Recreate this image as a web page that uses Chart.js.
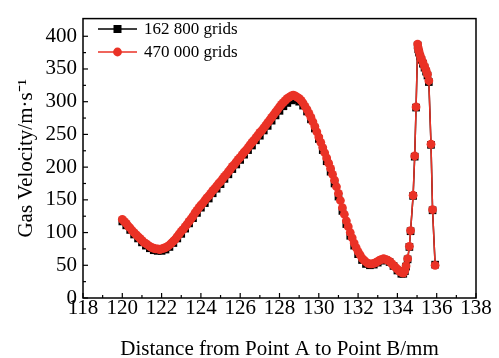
<!DOCTYPE html>
<html>
<head>
<meta charset="utf-8">
<script src="https://cdn.jsdelivr.net/npm/chart.js@4.4.0/dist/chart.umd.min.js"></script>
<style>
    html, body { margin: 0; padding: 0; background: #fff; }
    #wrap { width: 499px; height: 358px; }
</style>
</head>
<body>
<div id="wrap"><canvas id="velocityChart" width="499" height="358"></canvas></div>
<script>
// ============================================
// DATA
// ============================================

const seriesNames = ['162 800 grids', '470 000 grids'];

// 470 000 grids (red circles)
const fineX = [
    120.0, 120.1, 120.2, 120.3, 120.4, 120.5, 120.6, 120.7, 120.8, 120.9,
    121.0, 121.1, 121.2, 121.3, 121.4, 121.5, 121.6, 121.7, 121.8, 121.9,
    122.0, 122.1, 122.2, 122.3, 122.4, 122.5, 122.6, 122.7, 122.8, 122.9,
    123.0, 123.1, 123.2, 123.3, 123.4, 123.5, 123.6, 123.7, 123.8, 123.9,
    124.0, 124.1, 124.2, 124.3, 124.4, 124.5, 124.6, 124.7, 124.8, 124.9,
    125.0, 125.1, 125.2, 125.3, 125.4, 125.5, 125.6, 125.7, 125.8, 125.9,
    126.0, 126.1, 126.2, 126.3, 126.4, 126.5, 126.6, 126.7, 126.8, 126.9,
    127.0, 127.1, 127.2, 127.3, 127.4, 127.5, 127.6, 127.7, 127.8, 127.9,
    128.0, 128.1, 128.2, 128.3, 128.4, 128.5, 128.6, 128.7, 128.8, 128.9,
    129.0, 129.1, 129.2, 129.3, 129.4, 129.5, 129.6, 129.7, 129.8, 129.9,
    130.0, 130.1, 130.2, 130.3, 130.4, 130.5, 130.6, 130.7, 130.8, 130.9,
    131.0, 131.1, 131.2, 131.3, 131.4, 131.5, 131.6, 131.7, 131.8, 131.9,
    132.0, 132.1, 132.2, 132.3, 132.4, 132.5, 132.6, 132.7, 132.8, 132.9,
    133.0, 133.1, 133.2, 133.3, 133.4, 133.5, 133.6, 133.7, 133.8, 133.9,
    134.0, 134.1, 134.2, 134.3, 134.38, 134.44, 134.52, 134.61, 134.67, 134.80,
    134.88, 134.95, 135.03, 135.06, 135.10, 135.16, 135.22, 135.30, 135.38, 135.46,
    135.53, 135.60, 135.71, 135.79, 135.92
];
const fineY = [
    120, 117, 114, 110, 107, 103, 100, 97, 94, 91,
    88, 85, 83, 81, 79, 77, 76, 75, 75, 74,
    75, 76, 77, 79, 81, 84, 87, 90, 94, 98,
    102, 105, 109, 113, 117, 121, 125, 130, 134, 138,
    142, 145, 149, 153, 156, 160, 164, 167, 171, 175,
    178, 182, 186, 189, 193, 197, 201, 204, 208, 212,
    215, 219, 223, 226, 230, 234, 238, 241, 245, 249,
    253, 256, 260, 264, 268, 272, 276, 280, 284, 288,
    292, 296, 299, 302, 305, 307, 309, 310, 309, 307,
    305, 302, 298, 293, 288, 282, 276, 269, 262, 254,
    246, 238, 230, 222, 214, 206, 198, 189, 180, 170,
    160, 149, 138, 128, 118, 109, 100, 92, 84, 77,
    71, 66, 61, 58, 55, 53, 52, 52, 53, 54,
    56, 58, 59, 60, 59, 58, 56, 53, 50, 47,
    44, 41, 39, 38, 42, 49, 60, 79, 103, 157,
    217, 292, 388, 382, 377, 371, 366, 360, 354, 348,
    342, 332, 235, 135, 50
];

// 162 800 grids (black squares)
const coarseX = [
    120.0, 120.2, 120.4, 120.6, 120.8, 121.0, 121.2, 121.4, 121.6, 121.8,
    122.0, 122.2, 122.4, 122.6, 122.8, 123.0, 123.2, 123.4, 123.6, 123.8,
    124.0, 124.2, 124.4, 124.6, 124.8, 125.0, 125.2, 125.4, 125.6, 125.8,
    126.0, 126.2, 126.4, 126.6, 126.8, 127.0, 127.2, 127.4, 127.6, 127.8,
    128.0, 128.2, 128.4, 128.6, 128.8, 129.0, 129.2, 129.4, 129.6, 129.8,
    130.0, 130.2, 130.4, 130.6, 130.8, 131.0, 131.2, 131.4, 131.6, 131.8,
    132.0, 132.2, 132.4, 132.6, 132.8, 133.0, 133.2, 133.4, 133.6, 133.8,
    134.0, 134.2, 134.3, 134.38, 134.44, 134.52, 134.61, 134.67, 134.80, 134.88,
    134.95, 135.03, 135.06, 135.10, 135.16, 135.22, 135.30, 135.38, 135.46, 135.53,
    135.60, 135.71, 135.79, 135.92
];
const coarseY = [
    117, 111, 104, 97, 91, 85, 80, 76, 73, 72,
    72, 74, 78, 84, 91, 98, 106, 114, 122, 130,
    138, 145, 152, 160, 167, 174, 182, 189, 197, 204,
    211, 219, 226, 233, 241, 248, 256, 263, 271, 279,
    286, 293, 298, 302, 303, 300, 294, 285, 273, 259,
    243, 226, 209, 193, 175, 155, 133, 113, 95, 80,
    67, 58, 52, 50, 51, 54, 57, 58, 55, 49,
    42, 37, 37, 41, 48, 59, 78, 102, 156, 216,
    291, 386, 380, 375, 369, 364, 358, 352, 346, 340,
    330, 234, 134, 51
];

const xMin = 118, xMax = 138, xStep = 1, xLabelEvery = 2;
const yMin = 0, yMax = 427, yStep = 25, yLabelEvery = 50;

const RED = '#ea3226';
const BLACK = '#000000';
const FONT = 'Liberation Serif, Times New Roman, serif';

// ============================================
// PLUGINS
// ============================================

// frame + inward tick marks on bottom and left axes
const frameTicks = {
    id: 'frameTicks',
    afterDraw(chart) {
        const { ctx, chartArea: a, scales } = chart;
        ctx.save();
        ctx.strokeStyle = '#000';
        ctx.lineWidth = 1.5;
        ctx.strokeRect(a.left, a.top, a.right - a.left, a.bottom - a.top);

        ctx.lineWidth = 1.2;
        scales.x.ticks.forEach(t => {
            const px = scales.x.getPixelForValue(t.value);
            const len = t.value % xLabelEvery === 0 ? 5 : 3;
            ctx.beginPath();
            ctx.moveTo(px, a.bottom);
            ctx.lineTo(px, a.bottom - len);
            ctx.stroke();
        });
        scales.y.ticks.forEach(t => {
            const py = scales.y.getPixelForValue(t.value);
            const len = t.value % yLabelEvery === 0 ? 5 : 3;
            ctx.beginPath();
            ctx.moveTo(a.left, py);
            ctx.lineTo(a.left + len, py);
            ctx.stroke();
        });
        ctx.restore();
    }
};

// legend drawn inside the plot, top-left
const innerLegend = {
    id: 'innerLegend',
    afterDraw(chart) {
        const { ctx } = chart;
        const rows = [
            { ds: chart.data.datasets[0], y: 29 },
            { ds: chart.data.datasets[1], y: 52 }
        ];
        ctx.save();
        rows.forEach(r => {
            ctx.strokeStyle = r.ds.borderColor;
            ctx.lineWidth = 1.6;
            ctx.beginPath();
            ctx.moveTo(98, r.y);
            ctx.lineTo(137, r.y);
            ctx.stroke();
            ctx.fillStyle = r.ds.pointBackgroundColor;
            if (r.ds.pointStyle === 'rect') {
                ctx.fillRect(117.5 - 4, r.y - 4, 8, 8);
            } else {
                ctx.beginPath();
                ctx.arc(117.5, r.y, 4.4, 0, Math.PI * 2);
                ctx.fill();
            }
            ctx.fillStyle = '#000';
            ctx.font = '17px ' + FONT;
            ctx.textBaseline = 'middle';
            ctx.fillText(r.ds.label, 144, r.y + 1);
        });
        ctx.restore();
    }
};

// ============================================
// CHART
// ============================================

const toPoints = (xs, ys) => xs.map((x, i) => ({ x: x, y: ys[i] }));

const ctx = document.getElementById('velocityChart');
new Chart(ctx, {
    type: 'line',
    data: {
        datasets: [
            {
                label: seriesNames[0],
                data: toPoints(coarseX, coarseY),
                borderColor: BLACK,
                backgroundColor: BLACK,
                pointBackgroundColor: BLACK,
                pointBorderColor: BLACK,
                pointStyle: 'rect',
                pointRadius: 5.4,
                pointBorderWidth: 0,
                borderWidth: 1.5,
                order: 1
            },
            {
                label: seriesNames[1],
                data: toPoints(fineX, fineY),
                borderColor: RED,
                backgroundColor: RED,
                pointBackgroundColor: RED,
                pointBorderColor: RED,
                pointStyle: 'circle',
                pointRadius: 4.4,
                pointBorderWidth: 0,
                borderWidth: 1.5,
                order: 0
            }
        ]
    },
    options: {
        responsive: false,
        animation: false,
        clip: false,
        layout: { padding: { left: 0, top: 7, right: 23, bottom: 0 } },
        plugins: {
            legend: { display: false },
            tooltip: { enabled: false }
        },
        scales: {
            x: {
                type: 'linear',
                min: xMin,
                max: xMax,
                grid: { display: false, drawTicks: false },
                border: { display: false },
                ticks: {
                    stepSize: xStep,
                    autoSkip: false,
                    maxRotation: 0,
                    padding: -2,
                    color: '#000',
                    font: { family: FONT, size: 21 },
                    callback: v => (v % xLabelEvery === 0 ? String(v) : '')
                },
                title: {
                    display: true,
                    text: 'Distance from Point A to Point B/mm',
                    color: '#000',
                    font: { family: FONT, size: 21 },
                    padding: { top: 0, bottom: -4 }
                },
                afterFit: s => { s.height = 60; }
            },
            y: {
                min: yMin,
                max: yMax,
                grid: { display: false, drawTicks: false },
                border: { display: false },
                afterBuildTicks: s => {
                    s.ticks = s.ticks.filter(t => t.value % yStep === 0);
                },
                ticks: {
                    stepSize: yStep,
                    autoSkip: false,
                    padding: 6,
                    color: '#000',
                    font: { family: FONT, size: 21 },
                    callback: v => (v % yLabelEvery === 0 ? String(v) : '')
                },
                title: {
                    display: true,
                    text: 'Gas Velocity/m·s⁻¹',
                    color: '#000',
                    font: { family: FONT, size: 21 },
                    padding: { top: 14, bottom: 0 }
                },
                afterFit: s => { s.width = 83; }
            }
        }
    },
    plugins: [frameTicks, innerLegend]
});
</script>
</body>
</html>
